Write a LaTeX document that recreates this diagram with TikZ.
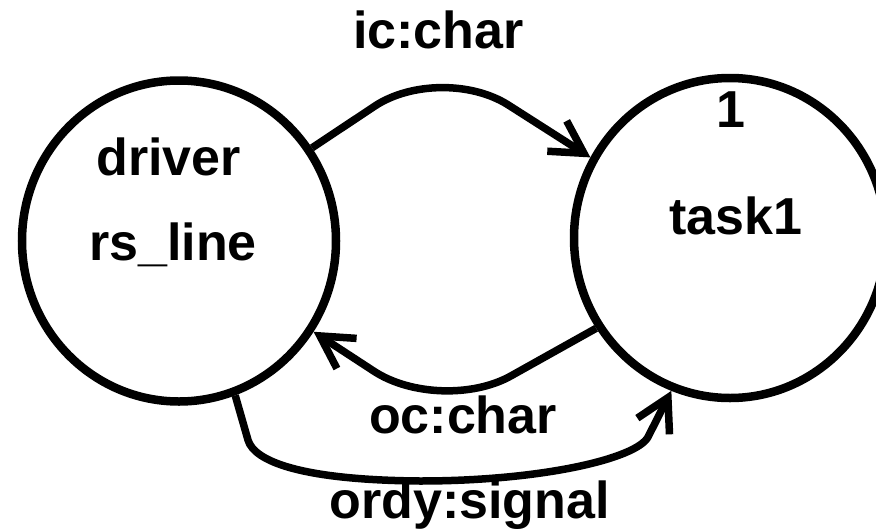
\documentclass[tikz,border=0pt]{standalone}
\usepackage{fontspec}
\setmainfont{Liberation Sans}
\usetikzlibrary{arrows.meta,shapes.geometric}
\tikzset{
  statebox/.style={draw, ellipse, line width=8.5pt, inner sep=0pt},
  lbl/.style={anchor=base, inner sep=0pt, font=\fontsize{52}{60}\selectfont\bfseries},
  conn/.style={line width=7.5pt, line join=round,
    -{Straight Barb[length=32pt,width=36pt,line cap=butt,line join=miter]}}
}
\begin{document}
\begin{tikzpicture}[x=1pt,y=-1pt]
\clip (0,0) rectangle (876,528);
\node[statebox, minimum width=314pt, minimum height=321pt] (L) at (179,241) {};
\node[statebox, minimum width=312pt, minimum height=320pt] (R) at (730,238) {};
\node[lbl] (tdriver) at (168.5,175) {driver};
\node[lbl] (trs) at (173,260) {rs\_line};
\node[lbl] (ttask) at (736,234) {task1};
\node[lbl] (tone) at (731,127) {1};
\node[lbl] (tic) at (438.5,48) {ic:char};
\node[lbl] (toc) at (463,433) {oc:char};
\node[lbl] (tordy) at (469.5,518) {ordy:signal};
\draw[conn, rounded corners=80pt] (L.35) -- (441,62) -- (R.150);
\draw[conn, rounded corners=80pt] (R.214) -- (441,415) -- (L.-34);
\draw[conn] (L.-70) -- (248,440) .. controls (254,461) and (300,480) .. (420,481)
  .. controls (540,481) and (636,459) .. (648,437) -- (R.249);
\end{tikzpicture}
\end{document}
